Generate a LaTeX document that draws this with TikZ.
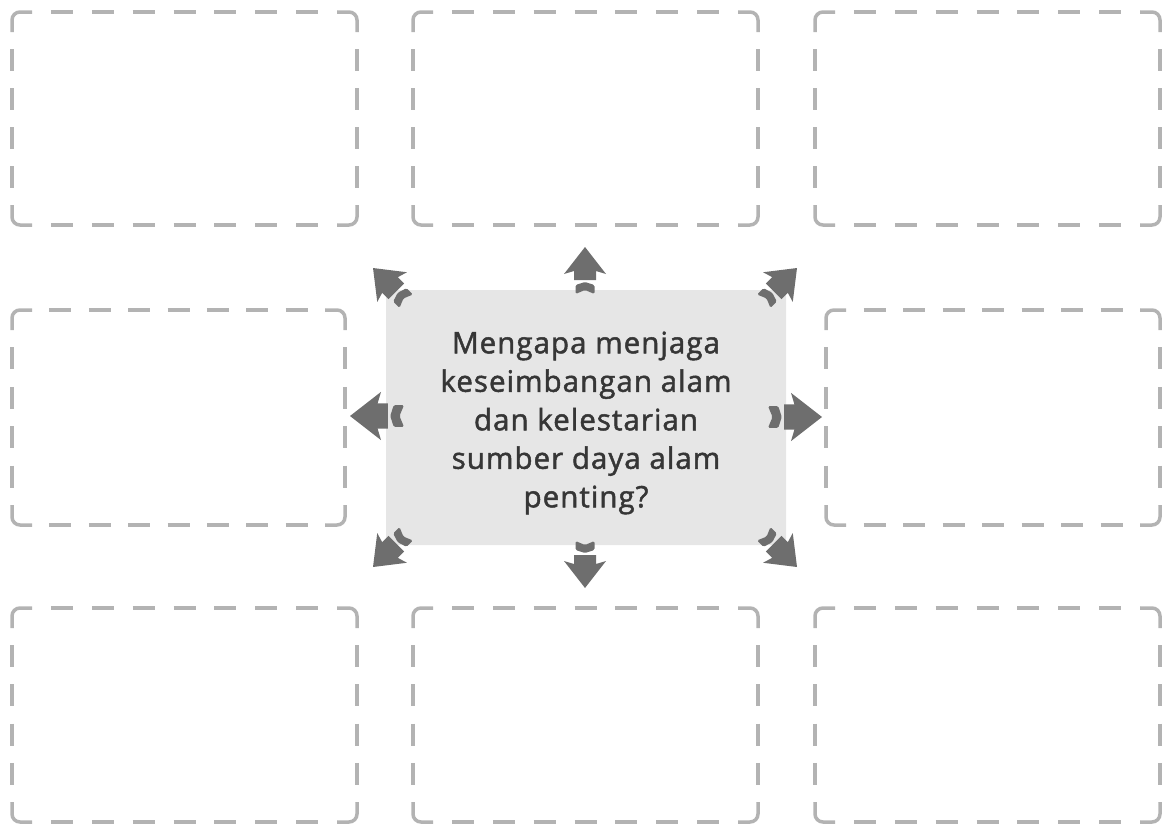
\documentclass[tikz,border=0pt]{standalone}
\usepackage{fontspec}
\setmainfont{Open Sans}
\newfontfamily\qfont[LetterSpace=3.5,FakeBold=1.6]{Open Sans}
\definecolor{boxgray}{HTML}{B3B3B3}
\definecolor{arrgray}{HTML}{6E6E6E}
\definecolor{centerfill}{HTML}{E6E6E6}
\definecolor{txtgray}{HTML}{363636}
\tikzset{
  boxline/.style={draw=boxgray, line width=3.5pt},
  arrowfill/.style={fill=arrgray},
  centerbox/.style={fill=centerfill, rounded corners=6pt, minimum width=400pt, minimum height=255pt, inner sep=0pt},
  qtext/.style={align=center, text=txtgray, font=\qfont\fontsize{29.5}{38.5}\selectfont},
  pics/dbox/.style 2 args={code={
    \pgfmathsetmacro\dbW{#1}
    \pgfmathsetmacro\dbH{#2}
    \pgfmathsetmacro\dbLw{\dbW-40}
    \pgfmathsetmacro\dbLh{\dbH-40}
    \pgfmathsetmacro\dbNw{round((\dbLw-20)/42)}
    \pgfmathsetmacro\dbNh{round((\dbLh-20)/42)}
    \pgfmathsetmacro\dbGw{(\dbLw-\dbNw*22)/(\dbNw+1)}
    \pgfmathsetmacro\dbGh{(\dbLh-\dbNh*22)/(\dbNh+1)}
    \draw[boxline,rounded corners=8pt] (0,20) -- (0,0) -- (20,0);
    \draw[boxline,rounded corners=8pt] (\dbW-20,0) -- (\dbW,0) -- (\dbW,20);
    \draw[boxline,rounded corners=8pt] (\dbW,\dbH-20) -- (\dbW,\dbH) -- (\dbW-20,\dbH);
    \draw[boxline,rounded corners=8pt] (20,\dbH) -- (0,\dbH) -- (0,\dbH-20);
    \draw[boxline,dash pattern=on 22pt off \dbGw pt,dash phase=22pt] (20,0) -- (\dbW-20,0);
    \draw[boxline,dash pattern=on 22pt off \dbGw pt,dash phase=22pt] (20,\dbH) -- (\dbW-20,\dbH);
    \draw[boxline,dash pattern=on 22pt off \dbGh pt,dash phase=22pt] (0,20) -- (0,\dbH-20);
    \draw[boxline,dash pattern=on 22pt off \dbGh pt,dash phase=22pt] (\dbW,20) -- (\dbW,\dbH-20);
  }},
  pics/arr/.style={code={
    \fill[arrowfill] (0,0) -- (-27,21) -- (-24,11) -- (-33,11) -- (-33,-11) -- (-24,-11) -- (-27,-21) -- cycle;
    \fill[arrowfill,rounded corners=1.5pt] (-35,0) -- (-38,9.5) -- (-47,9.5) -- (-43,0) -- (-47,-9.5) -- (-38,-9.5) -- cycle;
  }},
}
\begin{document}
\begin{tikzpicture}[x=1pt,y=-1pt]
\useasboundingbox (0,0) rectangle (1163,827);
% dashed boxes
\pic at (12,12) {dbox={345}{213}};
\pic at (413,12) {dbox={345}{213}};
\pic at (815,12) {dbox={345}{213}};
\pic at (12,310) {dbox={333}{215}};
\pic at (826,310) {dbox={334}{215}};
\pic at (12,608) {dbox={345}{214}};
\pic at (413,608) {dbox={345}{214}};
\pic at (815,608) {dbox={345}{214}};
% centre
\node[centerbox] (q) at (586,417.5) {};
\node[qtext] (qt) at (586,423) {Mengapa menjaga\\keseimbangan alam\\dan kelestarian\\sumber daya alam\\penting?};
% arrows
\pic[rotate=90] at (585,247) {arr};
\pic[rotate=270] at (585,588) {arr};
\pic[rotate=0,scale=1.15] at (822,417) {arr};
\pic[rotate=180,scale=1.15] at (350,416) {arr};
\pic[rotate=135] at (373,268) {arr};
\pic[rotate=45] at (797,268) {arr};
\pic[rotate=225] at (373,567) {arr};
\pic[rotate=315] at (797,567) {arr};
\end{tikzpicture}
\end{document}
